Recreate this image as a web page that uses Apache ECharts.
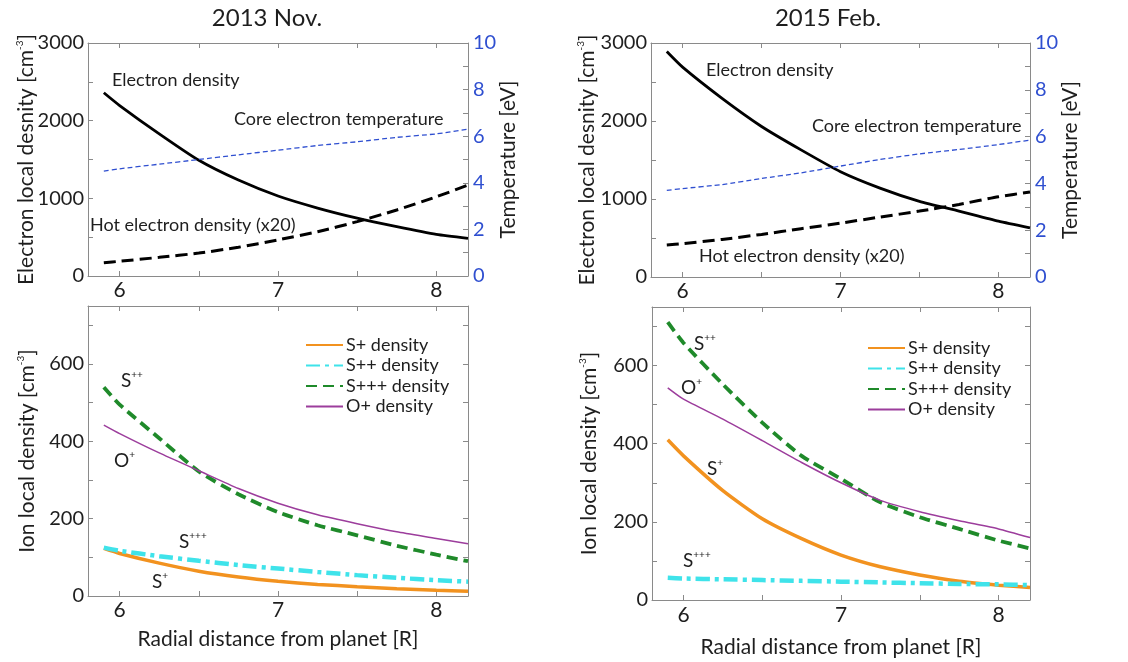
<!DOCTYPE html>
<html><head><meta charset="utf-8">
<script src="https://cdn.jsdelivr.net/npm/echarts@6/dist/echarts.min.js"></script>
<style>html,body{margin:0;padding:0;background:#fff}#c{width:1128px;height:662px}</style>
</head><body><div id="c"></div>
<script>
// ---- data ----
const xs = [5.9, 6.0, 6.25, 6.5, 6.75, 7.0, 7.25, 7.5, 7.75, 8.0, 8.2];
// 2013 Nov. electrons
const neNov = [2360, 2195, 1830, 1490, 1235, 1030, 875, 745, 635, 535, 485];
const nhNov = [170, 190, 240, 295, 370, 465, 570, 700, 850, 1020, 1170];
const teNov = [4.5, 4.6, 4.8, 5.0, 5.2, 5.4, 5.6, 5.76, 5.95, 6.1, 6.3];
// 2015 Feb. electrons
const neFeb = [2890, 2690, 2290, 1930, 1630, 1350, 1140, 970, 845, 715, 630];
const nhFeb = [410, 427, 482, 546, 619, 691, 768, 845, 930, 1029, 1090];
const teFeb = [3.7, 3.78, 3.95, 4.21, 4.45, 4.74, 5.02, 5.26, 5.45, 5.66, 5.85];
// 2013 Nov. ions
const spNov = [123, 110, 85, 64, 49, 38, 30, 24, 19, 15, 12];
const sppNov = [125, 117, 103, 91, 80, 71, 62, 54, 47, 41, 37];
const spppNov = [540, 495, 408, 322, 263, 217, 183, 157, 130, 107, 90];
const opNov = [442, 420, 370, 324, 278, 240, 210, 187, 166, 149, 135];
// 2015 Feb. ions
const spFeb = [410, 369, 280, 208, 157, 115, 85, 64, 48, 38, 32];
const sppFeb = [57, 55, 53, 51, 49, 47, 45, 43, 41, 40, 38];
const spppFeb = [711, 658, 552, 454, 369, 310, 250, 212, 182, 152, 132];
const opFeb = [543, 514, 463, 408, 352, 300, 255, 226, 203, 182, 160];
// ticks
const xTicks = [6, 6.5, 7, 7.5, 8];
const xLabels = [6, 7, 8];
const neTicks = [0, 500, 1000, 1500, 2000, 2500, 3000];
const neLabels = [0, 1000, 2000, 3000];
const teTicks = [0, 1, 2, 3, 4, 5, 6, 7, 8, 9, 10];
const teLabels = [0, 2, 4, 6, 8, 10];
const ionTicks = [0, 100, 200, 300, 400, 500, 600, 700];
const ionLabels = [0, 200, 400, 600];
const titles = ['2013 Nov.', '2015 Feb.'];

// ---- styling ----
const FF = 'Lato, "DejaVu Sans", sans-serif';
const AX = '#8a8a8a';
const TXT = '#1e1e1e';
const BLUE = '#2f4fd0';
const C_SP = '#f2921f', C_SPP = '#3fe3ea', C_SPPP = '#1f8a2a', C_OP = '#9c3d9c';

const pairs = ys => xs.map((x, i) => [x, ys[i]]);
const supRich = { s: { fontSize: 10, fontFamily: FF, color: TXT, verticalAlign: 'top', lineHeight: 22 } };
const plain = v => String(v);

function xAxis(grid, pos, margin, name, nameGap) {
  return {
    gridIndex: grid, type: 'value', min: 5.8, max: 8.2, position: pos,
    axisLine: { show: true, onZero: false, lineStyle: { color: AX, width: 1 } },
    axisTick: { show: true, inside: true, length: 5, lineStyle: { color: AX }, customValues: xTicks },
    axisLabel: { show: pos === 'bottom', customValues: xLabels, margin: margin, fontSize: 21, fontFamily: FF, color: TXT, formatter: plain },
    splitLine: { show: false },
    name: name || '', nameLocation: 'middle', nameGap: nameGap || 0, nameMoveOverlap: false,
    nameTextStyle: { fontSize: 21, fontFamily: FF, color: TXT }
  };
}
function yAxis(grid, pos, min, max, ticks, labels, opts) {
  opts = opts || {};
  return {
    gridIndex: grid, type: 'value', min: min, max: max, position: pos,
    axisLine: { show: true, onZero: false, lineStyle: { color: AX, width: 1 } },
    axisTick: { show: true, inside: true, length: 5, lineStyle: { color: AX }, customValues: ticks },
    axisLabel: { show: !!labels, customValues: labels || [], margin: opts.margin || 4, fontSize: 20, fontFamily: FF, color: opts.color || TXT, formatter: plain },
    splitLine: { show: false },
    name: opts.name || '', nameLocation: 'middle', nameGap: opts.nameGap || 0, nameMoveOverlap: false,
    nameTextStyle: { fontSize: 21, fontFamily: FF, color: TXT, rich: supRich }
  };
}

const grids = [
  { left: 88, width: 380, top: 43, height: 233 },
  { left: 651, width: 379, top: 43, height: 234 },
  { left: 88, width: 380, top: 306, height: 290 },
  { left: 652, width: 378, top: 307, height: 293 }
];

const xAxes = [
  xAxis(0, 'bottom', 4), xAxis(0, 'top', 0),
  xAxis(1, 'bottom', 4), xAxis(1, 'top', 0),
  xAxis(2, 'bottom', 4, 'Radial distance from planet [R]', 33), xAxis(2, 'top', 0),
  xAxis(3, 'bottom', 5, 'Radial distance from planet [R]', 37), xAxis(3, 'top', 0)
];
const neName = 'Electron local desnity [cm{s|-3}]';
const ionName = 'Ion local density [cm{s|-3}]';
const yAxes = [
  yAxis(0, 'left', 0, 3000, neTicks, neLabels, { name: neName, nameGap: 51 }),
  yAxis(0, 'right', 0, 10, teTicks, teLabels, { name: 'Temperature [eV]', nameGap: 30, color: BLUE, margin: 5 }),
  yAxis(1, 'left', 0, 3000, neTicks, neLabels, { name: neName, nameGap: 53 }),
  yAxis(1, 'right', 0, 10, teTicks, teLabels, { name: 'Temperature [eV]', nameGap: 30, color: BLUE, margin: 5 }),
  yAxis(2, 'left', 0, 750, ionTicks, ionLabels, { name: ionName, nameGap: 50 }),
  yAxis(2, 'right', 0, 750, ionTicks, null),
  yAxis(3, 'left', 0, 750, ionTicks, ionLabels, { name: ionName, nameGap: 52 }),
  yAxis(3, 'right', 0, 750, ionTicks, null)
];

function line(name, xi, yi, ys, color, width, type) {
  return {
    name: name, type: 'line', xAxisIndex: xi, yAxisIndex: yi, data: pairs(ys),
    symbol: 'none', smooth: 0.2, silent: true,
    lineStyle: { color: color, width: width, type: type || 'solid' },
    itemStyle: { color: color }
  };
}

const series = [
  line('ne13', 0, 0, neNov, '#000', 2.8),
  line('nh13', 0, 0, nhNov, '#000', 3, [12, 6]),
  line('te13', 0, 1, teNov, BLUE, 1.3, [5, 3]),
  line('ne15', 2, 2, neFeb, '#000', 2.8),
  line('nh15', 2, 2, nhFeb, '#000', 3, [12, 6]),
  line('te15', 2, 3, teFeb, BLUE, 1.3, [5, 3]),
  line('S+ density', 4, 4, spNov, C_SP, 3.5),
  line('S++ density', 4, 4, sppNov, C_SPP, 4.5, [14, 5, 4, 5]),
  line('S+++ density', 4, 4, spppNov, C_SPPP, 3.8, [11, 6]),
  line('O+ density', 4, 4, opNov, C_OP, 1.5),
  line('S+ density', 6, 6, spFeb, C_SP, 3.5),
  line('S++ density', 6, 6, sppFeb, C_SPP, 4.5, [14, 5, 4, 5]),
  line('S+++ density', 6, 6, spppFeb, C_SPPP, 3.8, [11, 6]),
  line('O+ density', 6, 6, opFeb, C_OP, 1.5)
];

const legNames = ['S+ density', 'S++ density', 'S+++ density', 'O+ density'];
function legend(left, top) {
  return {
    data: legNames, left: left, top: top, orient: 'vertical',
    itemWidth: 37, itemHeight: 14, itemGap: 2.5, selectedMode: false,
    itemStyle: { opacity: 0 },
    textStyle: { fontSize: 18, fontFamily: FF, color: TXT, padding: [0, 0, 0, -2] },
    padding: 0
  };
}

function txt(left, top, text, size, color, rich) {
  const st = { text: text, fontSize: size, fontFamily: FF, fill: color || TXT };
  if (rich) st.rich = rich;
  return { type: 'text', left: left, top: top, silent: true, style: st };
}
const ionRich = {
  b: { fontSize: 19, fontFamily: FF, color: TXT, lineHeight: 22 },
  s: { fontSize: 10, fontFamily: FF, color: TXT, verticalAlign: 'top', lineHeight: 22 }
};
const graphic = [
  { type: 'text', x: 267, y: 18, silent: true, style: { text: titles[0], fontSize: 24, fontFamily: FF, fill: TXT, align: 'center', verticalAlign: 'middle' } },
  { type: 'text', x: 828, y: 18, silent: true, style: { text: titles[1], fontSize: 24, fontFamily: FF, fill: TXT, align: 'center', verticalAlign: 'middle' } },
  txt(112, 71, 'Electron density', 18),
  txt(234, 110, 'Core electron temperature', 18),
  txt(90, 216, 'Hot electron density (x20)', 18),
  txt(706, 61, 'Electron density', 18),
  txt(812, 117, 'Core electron temperature', 18),
  txt(699, 247, 'Hot electron density (x20)', 18),
  txt(121, 370, '{b|S}{s|++}', 19, TXT, ionRich),
  txt(114, 450, '{b|O}{s|+}', 19, TXT, ionRich),
  txt(179, 531, '{b|S}{s|+++}', 19, TXT, ionRich),
  txt(152, 571, '{b|S}{s|+}', 19, TXT, ionRich),
  txt(694, 333, '{b|S}{s|++}', 19, TXT, ionRich),
  txt(681, 377, '{b|O}{s|+}', 19, TXT, ionRich),
  txt(707, 458, '{b|S}{s|+}', 19, TXT, ionRich),
  txt(683, 550, '{b|S}{s|+++}', 19, TXT, ionRich)
];

const chart = echarts.init(document.getElementById('c'), null, { renderer: 'canvas' });
chart.setOption({
  backgroundColor: '#fff',
  animation: false,
  grid: grids,
  xAxis: xAxes,
  yAxis: yAxes,
  legend: [legend(305, 336), legend(867, 339)],
  series: series,
  graphic: graphic
});
</script></body></html>
